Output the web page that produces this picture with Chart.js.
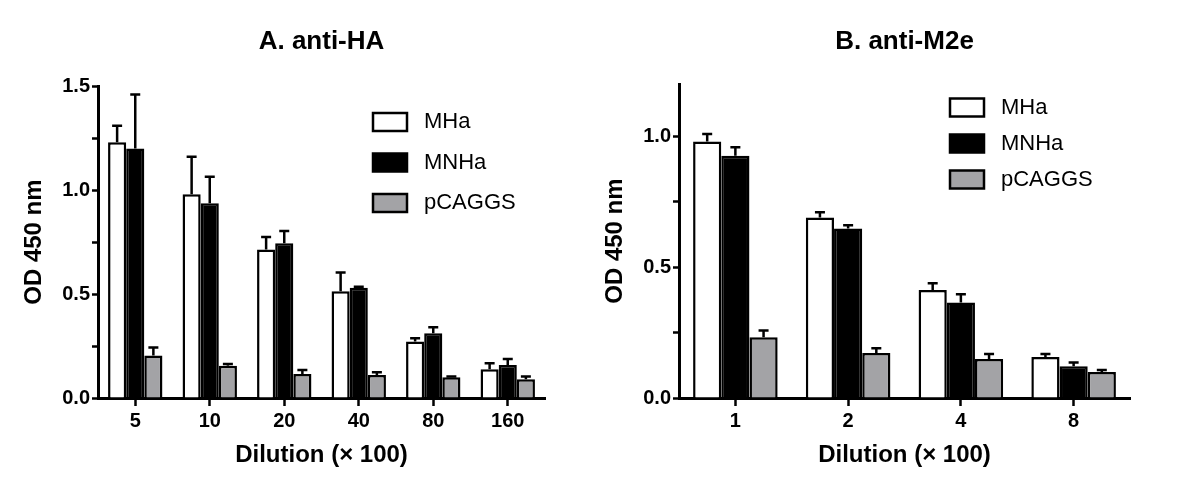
<!DOCTYPE html>
<html>
<head>
<meta charset="utf-8">
<script src="https://cdn.jsdelivr.net/npm/chart.js@4/dist/chart.umd.min.js"></script>
<style>
html, body { margin: 0; padding: 0; background: #fff; }
#wrap { position: relative; width: 1200px; height: 494px; }
.box { position: absolute; top: 0; height: 494px; }
#boxA { left: 0; width: 580px; }
#boxB { left: 580px; width: 620px; }
</style>
</head>
<body>
<div id="wrap">
  <div class="box" id="boxA"><canvas id="chartA"></canvas></div>
  <div class="box" id="boxB"><canvas id="chartB"></canvas></div>
</div>
<script>
// panel A: anti-HA
const dilutionA = ['5', '10', '20', '40', '80', '160'];
const haMHa = [1.23, 0.98, 0.715, 0.514, 0.272, 0.138];
const haMHaErr = [0.08, 0.18, 0.06, 0.09, 0.016, 0.029];
const haMNHa = [1.20, 0.937, 0.744, 0.53, 0.312, 0.159];
const haMNHaErr = [0.26, 0.127, 0.059, 0.005, 0.028, 0.029];
const haPCAGGS = [0.204, 0.155, 0.116, 0.111, 0.10, 0.09];
const haPCAGGSErr = [0.039, 0.008, 0.019, 0.013, 0.003, 0.013];

// panel B: anti-M2e
const dilutionB = ['1', '2', '4', '8'];
const m2MHa = [0.981, 0.69, 0.413, 0.157];
const m2MHaErr = [0.029, 0.02, 0.026, 0.011];
const m2MNHa = [0.926, 0.648, 0.365, 0.121];
const m2MNHaErr = [0.033, 0.013, 0.032, 0.015];
const m2PCAGGS = [0.232, 0.172, 0.149, 0.099];
const m2PCAGGSErr = [0.026, 0.018, 0.019, 0.008];

const FONT = '"Liberation Sans", Arial, sans-serif';
Chart.defaults.font.family = FONT;
Chart.defaults.color = '#000';

// upper error bars, drawn from the y scale
const errorBars = {
    id: 'errorBars',
    afterDatasetsDraw(chart) {
        const ctx = chart.ctx;
        const yScale = chart.scales.y;
        ctx.save();
        ctx.strokeStyle = '#000';
        ctx.lineWidth = 2.5;
        chart.data.datasets.forEach((ds, i) => {
            const meta = chart.getDatasetMeta(i);
            meta.data.forEach((bar, j) => {
                const top = yScale.getPixelForValue(ds.data[j] + ds.errors[j]);
                ctx.beginPath();
                ctx.moveTo(bar.x, bar.y);
                ctx.lineTo(bar.x, top);
                ctx.moveTo(bar.x - 5, top);
                ctx.lineTo(bar.x + 5, top);
                ctx.stroke();
            });
        });
        ctx.restore();
    }
};

// legend inside the plot, boxes with black outline
const legendBoxes = {
    id: 'legendBoxes',
    afterDraw(chart, args, opts) {
        const ctx = chart.ctx;
        ctx.save();
        chart.data.datasets.forEach((ds, i) => {
            const y = opts.y + i * opts.gap;
            ctx.fillStyle = ds.backgroundColor;
            ctx.fillRect(opts.x, y - 9, 34, 18);
            ctx.lineWidth = 2.5;
            ctx.strokeStyle = '#000';
            ctx.strokeRect(opts.x, y - 9, 34, 18);
            ctx.fillStyle = '#000';
            ctx.font = '22px ' + FONT;
            ctx.textBaseline = 'middle';
            ctx.fillText(ds.label, opts.x + 51, y);
        });
        ctx.restore();
    }
};

function makeChart(id, title, labels, series, errors, yMax, catPct, legendPos, pad) {
    const colors = ['#ffffff', '#000000', '#a3a3a6'];
    const names = ['MHa', 'MNHa', 'pCAGGS'];
    return new Chart(document.getElementById(id), {
        type: 'bar',
        data: {
            labels: labels,
            datasets: series.map((data, i) => ({
                label: names[i],
                data: data,
                errors: errors[i],
                backgroundColor: colors[i],
                borderColor: '#000',
                borderWidth: 2.5,
                categoryPercentage: catPct,
                barPercentage: 1.0
            }))
        },
        options: {
            responsive: true,
            maintainAspectRatio: false,
            animation: false,
            devicePixelRatio: 1,
            layout: { padding: { left: pad.left, right: pad.right, top: 0, bottom: 0 } },
            plugins: {
                legend: { display: false },
                tooltip: { enabled: false },
                title: {
                    display: true,
                    text: title,
                    fullSize: false,
                    font: { size: 26, weight: 'bold' },
                    padding: { top: 26, bottom: pad.titleBottom }
                },
                legendBoxes: legendPos
            },
            scales: {
                x: {
                    afterFit(scale) { scale.height = 96; },
                    grid: { display: true, offset: false, drawOnChartArea: false, tickLength: 8, tickWidth: 2.5, tickColor: '#000' },
                    border: { display: true, color: '#000', width: 3 },
                    ticks: { font: { size: 20, weight: 'bold' }, padding: 3 },
                    title: {
                        display: true,
                        text: 'Dilution (× 100)',
                        font: { size: 24, weight: 'bold' },
                        padding: { top: 0, bottom: 24 }
                    }
                },
                y: {
                    min: 0,
                    max: yMax,
                    afterFit(scale) { scale.width = 88; },
                    grid: { display: true, drawOnChartArea: false, tickLength: 6, tickWidth: 2.5, tickColor: '#000' },
                    border: { display: true, color: '#000', width: 3 },
                    ticks: {
                        stepSize: 0.25,
                        includeBounds: false,
                        padding: 2,
                        font: { size: 20, weight: 'bold' },
                        callback: v => (Math.abs(v * 2 - Math.round(v * 2)) < 1e-6 ? v.toFixed(1) : '')
                    },
                    title: {
                        display: true,
                        text: 'OD 450 nm',
                        font: { size: 24, weight: 'bold' },
                        padding: { top: 10, bottom: 0 }
                    }
                }
            }
        },
        plugins: [errorBars, legendBoxes]
    });
}

makeChart('chartA', 'A. anti-HA', dilutionA,
    [haMHa, haMNHa, haPCAGGS], [haMHaErr, haMNHaErr, haPCAGGSErr],
    1.5, 0.73, { x: 373, y: 122, gap: 40.5 }, { left: 10, right: 35, titleBottom: 29 });

makeChart('chartB', 'B. anti-M2e', dilutionB,
    [m2MHa, m2MNHa, m2PCAGGS], [m2MHaErr, m2MNHaErr, m2PCAGGSErr],
    1.2, 0.75, { x: 370, y: 107.5, gap: 36 }, { left: 11, right: 70, titleBottom: 27 });
</script>
</body>
</html>
